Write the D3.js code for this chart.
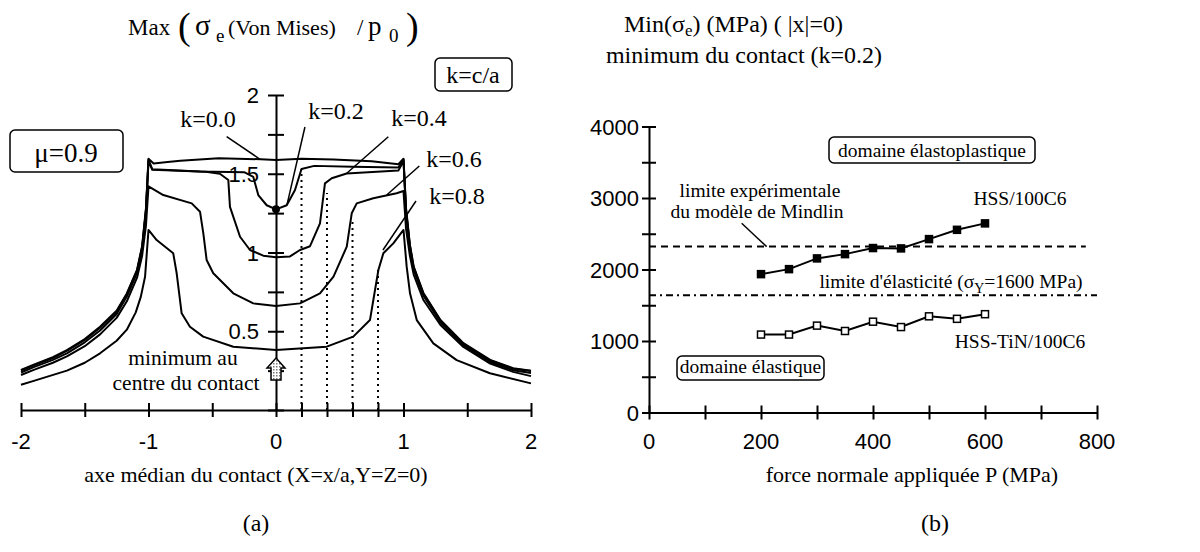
<!DOCTYPE html>
<html>
<head>
<meta charset="utf-8">
<script src="https://cdn.jsdelivr.net/npm/d3@7"></script>
<style>
  body { margin: 0; background: #fff; }
  text { font-family: "Liberation Serif", "Times New Roman", serif; fill: #000; }
  .tick-label { font-family: "Liberation Sans", Arial, sans-serif; font-size: 22px; }
</style>
</head>
<body>
<div id="chart"></div>
<script>
// ---- left panel: Max(sigma_e / p0) along the contact axis, one curve per k
var curveNames = ['k=0.0', 'k=0.2', 'k=0.4', 'k=0.6', 'k=0.8']
var curveK00 = [[-2,0.254],[-1.9,0.287],[-1.75,0.335],[-1.64,0.38],[-1.5,0.45],[-1.38,0.528],[-1.25,0.63],[-1.17,0.74],[-1.09,0.89],[-1.05,1.04],[-1.02,1.28],[-1.0,1.595],[-0.96,1.565],[-0.85,1.575],[-0.75,1.583],[-0.45,1.598],[-0.12,1.592],[0,1.588],[0.2,1.596],[0.45,1.59],[0.75,1.58],[0.96,1.56],[1.0,1.595],[1.02,1.28],[1.05,1.05],[1.08,0.91],[1.155,0.745],[1.29,0.572],[1.47,0.424],[1.68,0.318],[1.86,0.265],[2,0.25]]
var curveK02 = [[-2,0.25],[-1.9,0.283],[-1.75,0.33],[-1.64,0.375],[-1.5,0.445],[-1.38,0.522],[-1.25,0.625],[-1.17,0.735],[-1.09,0.885],[-1.05,1.035],[-1.02,1.27],[-1.0,1.59],[-0.97,1.528],[-0.6,1.515],[-0.25,1.51],[-0.2,1.49],[-0.178,1.48],[-0.139,1.365],[-0.073,1.30],[0,1.274],[0.084,1.30],[0.149,1.397],[0.2,1.53],[0.3,1.55],[0.6,1.545],[0.96,1.54],[1.0,1.59],[1.02,1.27],[1.05,1.045],[1.08,0.905],[1.155,0.74],[1.29,0.567],[1.47,0.42],[1.68,0.314],[1.86,0.262],[2,0.247]]
var curveK04 = [[-2,0.238],[-1.9,0.272],[-1.75,0.318],[-1.64,0.36],[-1.5,0.43],[-1.38,0.505],[-1.25,0.61],[-1.17,0.72],[-1.09,0.87],[-1.05,1.02],[-1.02,1.26],[-1.0,1.58],[-0.97,1.525],[-0.55,1.513],[-0.44,1.50],[-0.374,1.46],[-0.361,1.29],[-0.282,1.10],[-0.204,1.016],[-0.1,0.98],[0,0.97],[0.11,0.975],[0.188,1.016],[0.267,1.04],[0.345,1.185],[0.384,1.439],[0.437,1.471],[0.554,1.502],[0.96,1.52],[1.0,1.58],[1.02,1.26],[1.05,1.03],[1.08,0.89],[1.155,0.728],[1.29,0.556],[1.47,0.41],[1.68,0.305],[1.86,0.252],[2,0.235]]
var curveK06 = [[-2,0.222],[-1.9,0.255],[-1.75,0.3],[-1.64,0.34],[-1.5,0.405],[-1.38,0.48],[-1.25,0.585],[-1.17,0.69],[-1.09,0.84],[-1.05,0.98],[-1.02,1.17],[-1.0,1.42],[-0.884,1.365],[-0.661,1.312],[-0.596,1.259],[-0.57,1.122],[-0.544,0.952],[-0.492,0.868],[-0.335,0.741],[-0.178,0.677],[0,0.66],[0.188,0.677],[0.345,0.741],[0.451,0.847],[0.555,1.037],[0.594,1.249],[0.633,1.312],[0.763,1.344],[0.946,1.376],[1.0,1.39],[1.02,1.15],[1.05,0.98],[1.08,0.86],[1.155,0.70],[1.29,0.54],[1.47,0.40],[1.68,0.295],[1.86,0.242],[2,0.215]]
var curveK08 = [[-2,0.16],[-1.9,0.185],[-1.64,0.25],[-1.5,0.3],[-1.38,0.36],[-1.25,0.44],[-1.17,0.51],[-1.1,0.62],[-1.06,0.72],[-1.027,0.846],[-1.0,1.143],[-0.936,1.079],[-0.806,0.995],[-0.779,0.868],[-0.74,0.614],[-0.675,0.529],[-0.571,0.466],[-0.335,0.402],[0,0.381],[0.398,0.402],[0.606,0.466],[0.737,0.571],[0.803,0.889],[0.842,0.995],[0.92,1.058],[1.0,1.143],[1.025,0.91],[1.051,0.741],[1.104,0.571],[1.234,0.423],[1.417,0.317],[1.678,0.233],[2,0.169]]

// dotted verticals at x = k, up to (about) the curve
var dottedX = [0.2, 0.4, 0.6, 0.8]
var dottedTop = [1.53, 1.378, 1.206, 0.90]
var minK02 = [0, 1.274]

var leftXTicks = [-2, -1.5, -1, -0.5, 0, 0.2, 0.4, 0.6, 0.8, 1, 1.5, 2]
var leftXLabels = [-2, -1, 0, 1, 2]
var leftYTicks = [0, 0.25, 0.5, 0.75, 1, 1.25, 1.5, 1.75, 2]
var leftYLabels = [0.5, 1, 1.5, 2]

// leader lines (data coords): [x1, y1, x2, y2]
var leftLeaders = [[-0.387,1.735,-0.125,1.592],[0.227,1.797,0.086,1.302],[0.881,1.735,0.555,1.503],[1.124,1.549,0.868,1.365],[1.098,1.327,0.839,1.016]]

// ---- right panel: Min(sigma_e) vs applied load
var pressures = [200, 250, 300, 350, 400, 450, 500, 550, 600]
var hssValues = [1935, 2005, 2155, 2215, 2300, 2295, 2425, 2555, 2645]
var tinValues = [1090, 1090, 1215, 1140, 1270, 1195, 1345, 1310, 1375]
var mindlinLimit = 2320
var yieldLimit = 1640
var rightXTicks = d3.range(0, 801, 100)
var rightXLabels = [0, 200, 400, 600, 800]
var rightYTicks = d3.range(0, 4001, 500)
var rightYLabels = [0, 1000, 2000, 3000, 4000]

var svg = d3.select('#chart').append('svg')
  .attr('width', 1200)
  .attr('height', 552)

svg.append('rect').attr('width', 1200).attr('height', 552).attr('fill', '#fff')

// scales
var xL = d3.scaleLinear().domain([-2, 2]).range([21, 531])
var yL = d3.scaleLinear().domain([0, 2]).range([410, 95])
var xR = d3.scaleLinear().domain([0, 800]).range([649, 1097])
var yR = d3.scaleLinear().domain([0, 4000]).range([412.5, 126.5])

// ===================== LEFT =====================
var left = svg.append('g')

// x axis, ticks cross the line
var xAxisL = d3.axisBottom(xL).tickValues(leftXTicks).tickFormat('').tickSizeOuter(0)
var gxL = left.append('g').attr('transform', 'translate(0,' + yL(0) + ')').call(xAxisL)
gxL.selectAll('.tick line').attr('y1', -7).attr('y2', 7).attr('stroke-width', 2)
gxL.select('.domain').attr('stroke-width', 2)

left.append('g').selectAll('text')
  .data(leftXLabels)
  .enter().append('text')
  .attr('class', 'tick-label')
  .attr('x', d => xL(d))
  .attr('y', 449)
  .attr('text-anchor', 'middle')
  .text(d => d)

var yAxisL = d3.axisLeft(yL).tickValues(leftYTicks).tickFormat('').tickSizeOuter(0)
var gyL = left.append('g').attr('transform', 'translate(' + xL(0) + ',0)').call(yAxisL)
gyL.selectAll('.tick line').attr('x1', -8).attr('x2', 8).attr('stroke-width', 2)
gyL.select('.domain').attr('stroke-width', 2)

left.append('g').selectAll('text')
  .data(leftYLabels)
  .enter().append('text')
  .attr('class', 'tick-label')
  .attr('x', xL(0) - 17)
  .attr('y', d => yL(d) + 8)
  .attr('text-anchor', 'end')
  .text(d => d)

// dotted verticals
left.append('g').selectAll('line')
  .data(dottedX)
  .enter().append('line')
  .attr('x1', d => xL(d))
  .attr('x2', d => xL(d))
  .attr('y1', yL(0))
  .attr('y2', (d, i) => yL(dottedTop[i]))
  .attr('stroke', '#000')
  .attr('stroke-width', 2)
  .attr('stroke-dasharray', '2 4')

// curves
var line = d3.line().x(d => xL(d[0])).y(d => yL(d[1]))
var curves = [curveK00, curveK02, curveK04, curveK06, curveK08]
left.append('g').selectAll('path')
  .data(curves)
  .enter().append('path')
  .attr('d', line)
  .attr('fill', 'none')
  .attr('stroke', '#000')
  .attr('stroke-width', 2)
  .attr('stroke-linejoin', 'round')

// minimum dot on k=0.2
left.append('circle')
  .attr('cx', xL(minK02[0]))
  .attr('cy', yL(minK02[1]))
  .attr('r', 4)
  .attr('fill', '#000')

// leader lines
left.append('g').selectAll('line')
  .data(leftLeaders)
  .enter().append('line')
  .attr('x1', d => xL(d[0])).attr('y1', d => yL(d[1]))
  .attr('x2', d => xL(d[2])).attr('y2', d => yL(d[3]))
  .attr('stroke', '#000')
  .attr('stroke-width', 1.5)

// k labels
var kLabelPos = [[208, 127], [336, 119], [419, 126], [454, 167], [457, 204]]
left.append('g').selectAll('text')
  .data(curveNames)
  .enter().append('text')
  .attr('x', (d, i) => kLabelPos[i][0])
  .attr('y', (d, i) => kLabelPos[i][1])
  .attr('text-anchor', 'middle')
  .attr('font-size', 24)
  .text(d => d)

// arrow pointing at the centre minimum
var ax = xL(0), aTip = 358, aBase = 380
var defs = svg.append('defs')
var pat = defs.append('pattern').attr('id', 'dots').attr('width', 3).attr('height', 3).attr('patternUnits', 'userSpaceOnUse')
pat.append('rect').attr('width', 3).attr('height', 3).attr('fill', '#fff')
pat.append('rect').attr('width', 1.5).attr('height', 1.5).attr('fill', '#777')
left.append('path')
  .attr('d', `M${ax},${aTip} L${ax + 9},${aTip + 10} L${ax + 5},${aTip + 10} L${ax + 5},${aBase} L${ax - 5},${aBase} L${ax - 5},${aTip + 10} L${ax - 9},${aTip + 10} Z`)
  .attr('fill', 'url(#dots)')
  .attr('stroke', '#000')
  .attr('stroke-width', 1.5)

left.append('text').attr('x', 183).attr('y', 365).attr('text-anchor', 'middle').attr('font-size', 21.5).text('minimum au')
left.append('text').attr('x', 186).attr('y', 390).attr('text-anchor', 'middle').attr('font-size', 21.5).text('centre du contact')

// boxes
function box(g, x, y, w, h) {
  g.append('rect').attr('x', x).attr('y', y).attr('width', w).attr('height', h)
    .attr('rx', 5).attr('fill', 'none').attr('stroke', '#000').attr('stroke-width', 1.5)
}
box(left, 435, 58, 77, 33)
left.append('text').attr('x', 473).attr('y', 83).attr('text-anchor', 'middle').attr('font-size', 24).text('k=c/a')
box(left, 10, 130, 113, 42)
left.append('text').attr('x', 66).attr('y', 162).attr('text-anchor', 'middle').attr('font-size', 27).text('\u03bc=0.9')

// title, pieces placed along the line
var tL = left.append('text').attr('y', 35).attr('font-size', 23)
tL.append('tspan').attr('x', 128).text('Max')
tL.append('tspan').attr('x', 178).attr('y', 39).attr('font-size', 38).text('(')
tL.append('tspan').attr('x', 195).attr('y', 35).attr('font-size', 29).text('\u03c3')
tL.append('tspan').attr('x', 216).attr('y', 42).attr('font-size', 19).text('e')
tL.append('tspan').attr('x', 228).attr('y', 35).attr('font-size', 22).text('(Von Mises)')
tL.append('tspan').attr('x', 357).text('/')
tL.append('tspan').attr('x', 368).attr('font-size', 27).text('p')
tL.append('tspan').attr('x', 389).attr('y', 42).attr('font-size', 19).text('0')
tL.append('tspan').attr('x', 406).attr('y', 39).attr('font-size', 38).text(')')

left.append('text').attr('x', 256).attr('y', 482).attr('text-anchor', 'middle').attr('font-size', 22)
  .text('axe m\u00e9dian du contact (X=x/a,Y=Z=0)')
left.append('text').attr('x', 256).attr('y', 531).attr('text-anchor', 'middle').attr('font-size', 24).text('(a)')

// ===================== RIGHT =====================
var right = svg.append('g')

var xAxisR = d3.axisBottom(xR).tickValues(rightXTicks).tickFormat('').tickSizeOuter(0)
var gxR = right.append('g').attr('transform', 'translate(0,' + yR(0) + ')').call(xAxisR)
gxR.selectAll('.tick line').attr('y1', -7).attr('y2', 7).attr('stroke-width', 2)
gxR.select('.domain').attr('stroke-width', 2)

right.append('g').selectAll('text')
  .data(rightXLabels)
  .enter().append('text')
  .attr('class', 'tick-label')
  .attr('x', d => xR(d))
  .attr('y', 449)
  .attr('text-anchor', 'middle')
  .text(d => d)

var yAxisR = d3.axisLeft(yR).tickValues(rightYTicks).tickFormat('').tickSizeOuter(0)
var gyR = right.append('g').attr('transform', 'translate(' + xR(0) + ',0)').call(yAxisR)
gyR.selectAll('.tick line').attr('x1', -7).attr('x2', 7).attr('stroke-width', 2)
gyR.select('.domain').attr('stroke-width', 2)

right.append('g').selectAll('text')
  .data(rightYLabels)
  .enter().append('text')
  .attr('class', 'tick-label')
  .attr('x', xR(0) - 10)
  .attr('y', d => yR(d) + 8)
  .attr('text-anchor', 'end')
  .text(d => d)

// reference lines
right.append('line')
  .attr('x1', xR(0)).attr('x2', xR(780))
  .attr('y1', yR(mindlinLimit)).attr('y2', yR(mindlinLimit))
  .attr('stroke', '#000').attr('stroke-width', 2).attr('stroke-dasharray', '7 5')
right.append('line')
  .attr('x1', xR(0)).attr('x2', xR(800))
  .attr('y1', yR(yieldLimit)).attr('y2', yR(yieldLimit))
  .attr('stroke', '#000').attr('stroke-width', 2).attr('stroke-dasharray', '7 4 2 4')

var lineR = d3.line().x((d, i) => xR(pressures[i])).y(d => yR(d))

function series(values, fill) {
  right.append('path')
    .attr('d', lineR(values))
    .attr('fill', 'none')
    .attr('stroke', '#000')
    .attr('stroke-width', 2)
  right.append('g').selectAll('rect')
    .data(values)
    .enter().append('rect')
    .attr('x', (d, i) => xR(pressures[i]) - 3.5)
    .attr('y', d => yR(d) - 3.5)
    .attr('width', 7)
    .attr('height', 7)
    .attr('fill', fill)
    .attr('stroke', '#000')
    .attr('stroke-width', 1.5)
}
series(hssValues, '#000')
series(tinValues, '#fff')

// annotations
right.append('line')
  .attr('x1', xR(165.5)).attr('y1', yR(2646))
  .attr('x2', xR(210)).attr('y2', yR(mindlinLimit))
  .attr('stroke', '#000').attr('stroke-width', 1.5)

var ann = 19.5
right.append('text').attr('x', 760).attr('y', 197).attr('text-anchor', 'middle').attr('font-size', ann).text('limite exp\u00e9rimentale')
right.append('text').attr('x', 757).attr('y', 218).attr('text-anchor', 'middle').attr('font-size', ann).text('du mod\u00e8le de Mindlin')
right.append('text').attr('x', 1020).attr('y', 205).attr('text-anchor', 'middle').attr('font-size', ann).text('HSS/100C6')
right.append('text').attr('x', 1020).attr('y', 348).attr('text-anchor', 'middle').attr('font-size', ann).text('HSS-TiN/100C6')

var tY = right.append('text').attr('x', 951).attr('y', 288).attr('text-anchor', 'middle').attr('font-size', ann)
tY.append('tspan').text('limite d\'\u00e9lasticit\u00e9 (\u03c3')
tY.append('tspan').attr('dy', 5).attr('font-size', 14).text('Y')
tY.append('tspan').attr('dy', -5).text('=1600 MPa)')

box(right, 829, 137, 206, 26)
right.append('text').attr('x', 932).attr('y', 157).attr('text-anchor', 'middle').attr('font-size', ann).text('domaine \u00e9lastoplastique')
box(right, 677, 356, 147, 24)
right.append('text').attr('x', 750.5).attr('y', 373).attr('text-anchor', 'middle').attr('font-size', ann).text('domaine \u00e9lastique')

// title
var tR = right.append('text').attr('x', 624).attr('y', 32).attr('font-size', 24)
tR.append('tspan').text('Min(\u03c3')
tR.append('tspan').attr('dy', 4).attr('font-size', 17).text('e')
tR.append('tspan').attr('dy', -4).text(') (MPa) (  |x|=0)')
right.append('text').attr('x', 744).attr('y', 63).attr('text-anchor', 'middle').attr('font-size', 24).text('minimum du contact (k=0.2)')

right.append('text').attr('x', 912).attr('y', 482).attr('text-anchor', 'middle').attr('font-size', 22)
  .text('force normale appliqu\u00e9e P (MPa)')
right.append('text').attr('x', 935).attr('y', 531).attr('text-anchor', 'middle').attr('font-size', 24).text('(b)')
</script>
</body>
</html>
